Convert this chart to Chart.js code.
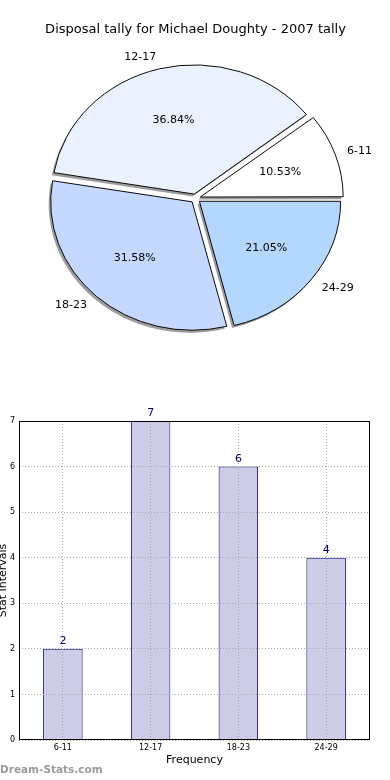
<!DOCTYPE html>
<html><head><meta charset="utf-8">
<script src="https://cdn.jsdelivr.net/npm/chart.js@4"></script>
<style>
html,body{margin:0;padding:0;background:#fff;width:390px;height:780px;overflow:hidden;}
#pieWrap{position:absolute;left:0;top:0;width:390px;height:390px;}
#barWrap{position:absolute;left:0;top:390px;width:390px;height:390px;}
#wm{position:absolute;left:0px;top:763px;font:bold 10.5px "DejaVu Sans";color:#9a9a9a;white-space:nowrap;line-height:13px;}
</style></head><body>
<div id="pieWrap"><canvas id="pie" width="390" height="390"></canvas></div>
<div id="barWrap"><canvas id="bar" width="390" height="390"></canvas></div>
<div id="wm">Dream-Stats.com</div>
<script>
// ---- data ----
const categories = ['6-11', '12-17', '18-23', '24-29'];
const tallies = [2, 7, 6, 4];
const yTicks = [0, 1, 2, 3, 4, 5, 6, 7];
const chartTitle = 'Disposal tally for Michael Doughty - 2007 tally';
const xTitle = 'Frequency';
const yTitle = 'Stat Intervals';
const sliceColors = ['#ffffff', '#eaf1ff', '#c5d8ff', '#b4d7ff'];

// ---- pie ----
const YS = 128 / 141;           // vertical squash (elliptical pie)
const total = tallies.reduce((a, b) => a + b, 0);
// Chart.js draws clockwise; reference is counter-clockwise from east -> reverse
const order = categories.map((_, i) => i).reverse();

function squash(ctx, cx, cy) {
  ctx.translate(cx, cy); ctx.scale(1, YS); ctx.translate(-cx, -cy);
}

const pieExtras = {
  id: 'pieExtras',
  beforeDatasetsDraw(chart) {
    const meta = chart.getDatasetMeta(0);
    const a = meta.data[0];
    const ctx = chart.ctx;
    // shadow pass: gray copies of the slices, shifted left/down
    ctx.save();
    ctx.translate(-2, 2.5);
    squash(ctx, a.x, a.y);
    meta.data.forEach(arc => {
      const o = arc.options;
      arc.options = Object.assign({}, o, { backgroundColor: 'rgba(60,60,60,0.5)', borderWidth: 0 });
      arc.draw(ctx);
      arc.options = o;
    });
    ctx.restore();
    ctx.save();
    squash(ctx, a.x, a.y);
  },
  afterDatasetsDraw(chart) {
    const ctx = chart.ctx;
    ctx.restore();
    const meta = chart.getDatasetMeta(0);
    ctx.save();
    ctx.fillStyle = '#000';
    ctx.font = '11px "DejaVu Sans"';
    ctx.textBaseline = 'middle';
    meta.data.forEach((arc, i) => {
      const k = order[i];
      const p = arc.getProps(['x', 'y', 'startAngle', 'endAngle', 'outerRadius'], true);
      const mid = (p.startAngle + p.endAngle) / 2;
      const off = (arc.options.offset || 0) / 4;
      const r = p.outerRadius;
      const dx = Math.cos(mid), dy = Math.sin(mid) * YS;
      const pct = (tallies[k] / total * 100).toFixed(2) + '%';
      ctx.textAlign = 'center';
      ctx.fillText(pct, p.x + (off + 0.6 * r) * dx, p.y + (off + 0.6 * r) * dy);
      ctx.textAlign = dx > 0 ? 'left' : 'right';
      ctx.fillText(categories[k], p.x + (off + 1.1 * r) * dx, p.y + (off + 1.1 * r) * dy);
    });
    ctx.restore();
  }
};

new Chart(document.getElementById('pie'), {
  type: 'pie',
  data: {
    labels: order.map(k => categories[k]),
    datasets: [{
      data: order.map(k => tallies[k]),
      backgroundColor: order.map(k => sliceColors[k]),
      borderColor: '#000',
      borderWidth: 1,
      offset: 20,
      hoverOffset: 20,
      radius: 141
    }]
  },
  options: {
    responsive: false,
    animation: false,
    rotation: 90,
    events: [],
    layout: { padding: { top: 0, left: 1, right: 0, bottom: 30.6 } },
    plugins: {
      legend: { display: false },
      tooltip: { enabled: false },
      title: {
        display: true, text: chartTitle, color: '#000',
        font: { family: 'DejaVu Sans', size: 13, weight: 'normal', lineHeight: 1.2 },
        padding: { top: 22, bottom: 0 }
      }
    }
  },
  plugins: [pieExtras]
});

// ---- bar ----
const barExtras = {
  id: 'barExtras',
  afterDraw(chart) {
    const { ctx, chartArea: a } = chart;
    ctx.save();
    ctx.strokeStyle = '#000'; ctx.lineWidth = 1;
    ctx.strokeRect(Math.round(a.left) + 0.5, Math.round(a.top) + 0.5,
      Math.round(a.right - a.left) - 1, Math.round(a.bottom - a.top) - 1);
    const meta = chart.getDatasetMeta(0);
    ctx.fillStyle = '#000080';
    ctx.font = '11px "DejaVu Sans"';
    ctx.textAlign = 'center'; ctx.textBaseline = 'bottom';
    meta.data.forEach((bar, i) => {
      ctx.fillText(String(tallies[i]), bar.x, bar.y - 2);
    });
    ctx.restore();
  }
};

new Chart(document.getElementById('bar'), {
  type: 'bar',
  data: {
    labels: categories,
    datasets: [{
      data: tallies,
      backgroundColor: 'rgb(204,204,230)',
      borderColor: '#000080',
      borderWidth: 1,
      barPercentage: 0.45,
      categoryPercentage: 1
    }]
  },
  options: {
    responsive: false,
    animation: false,
    events: [],
    layout: { padding: { top: 31, right: 20, left: 0, bottom: 0 } },
    plugins: { legend: { display: false }, tooltip: { enabled: false } },
    scales: {
      x: {
        offset: true,
        grid: { offset: false, color: '#a8a8a8', drawTicks: false, z: 1 },
        border: { display: false, dash: [1, 2] },
        ticks: { color: '#000', font: { family: 'DejaVu Sans', size: 8 }, padding: 3, maxRotation: 0 },
        title: { display: true, text: xTitle, color: '#000', font: { family: 'DejaVu Sans', size: 11, lineHeight: 1.2 }, padding: { top: 0, bottom: 13 } },
        afterFit(s) { s.height = 40; }
      },
      y: {
        min: 0, max: 7,
        afterBuildTicks(s) { s.ticks = yTicks.map(v => ({ value: v })); },
        grid: { color: '#a8a8a8', drawTicks: false, z: 1 },
        border: { display: false, dash: [1, 2] },
        ticks: { color: '#000', font: { family: 'DejaVu Sans', size: 8 }, padding: 4 },
        title: { display: true, text: yTitle, color: '#000', font: { family: 'DejaVu Sans', size: 11, lineHeight: 1 }, padding: { top: -2, bottom: 0 } },
        afterFit(s) { s.width = 19; }
      }
    }
  },
  plugins: [barExtras]
});
</script>
</body></html>
